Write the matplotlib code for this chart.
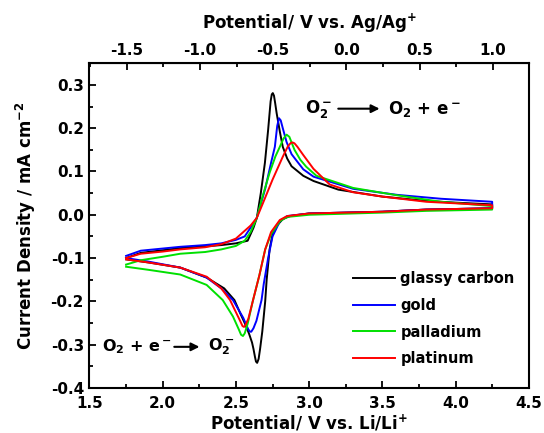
import numpy as np
import matplotlib
matplotlib.use("Agg")
import matplotlib.pyplot as plt
from matplotlib.ticker import MultipleLocator, FixedLocator

plt.rcParams['font.family'] = ['DejaVu Sans']
plt.rcParams['font.weight'] = 'bold'
plt.rcParams['mathtext.default'] = 'regular'
plt.rcParams['axes.unicode_minus'] = False

# offset between the two reference scales (V vs Li/Li+ minus V vs Ag/Ag+)
offset = 3.254

labels = ["glassy carbon", "gold", "palladium", "platinum"]
colors = ["black", "blue", "#00e000", "red"]
ag_ticks = [-1.5, -1.0, -0.5, 0.0, 0.5, 1.0]

# forward scan (1.75 -> 4.25 V) and reverse scan (4.25 -> 1.75 V)
gc_up_V = [1.75, 1.85, 2.0, 2.12, 2.29, 2.4, 2.5, 2.58, 2.62, 2.643, 2.67, 2.698, 2.72, 2.737, 2.745, 2.752, 2.76, 2.768, 2.778, 2.80, 2.82, 2.85, 2.88, 2.96, 3.03, 3.2, 3.5, 3.8, 4.0, 4.25]
gc_up_j = [-0.1, -0.088, -0.082, -0.077, -0.073, -0.07, -0.066, -0.06, -0.03, -0.007, 0.05, 0.12, 0.196, 0.262, 0.278, 0.281, 0.275, 0.258, 0.235, 0.192, 0.157, 0.13, 0.112, 0.09, 0.078, 0.058, 0.042, 0.032, 0.028, 0.024]
gc_dn_V = [4.25, 3.8, 3.5, 3.0, 2.87, 2.82, 2.78, 2.75, 2.73, 2.71, 2.70, 2.68, 2.665, 2.655, 2.645, 2.637, 2.63, 2.62, 2.61, 2.59, 2.56, 2.53, 2.49, 2.42, 2.3, 2.12, 1.9, 1.75]
gc_dn_j = [0.015, 0.012, 0.007, 0.003, -0.003, -0.01, -0.025, -0.045, -0.08, -0.15, -0.2, -0.27, -0.31, -0.333, -0.342, -0.339, -0.328, -0.31, -0.295, -0.275, -0.25, -0.228, -0.197, -0.17, -0.145, -0.122, -0.11, -0.103]

au_up_V = [1.75, 1.85, 2.0, 2.12, 2.29, 2.4, 2.5, 2.56, 2.6, 2.643, 2.7, 2.74, 2.766, 2.782, 2.794, 2.806, 2.82, 2.846, 2.88, 2.914, 2.96, 3.03, 3.3, 3.6, 3.9, 4.25]
au_up_j = [-0.095, -0.083, -0.078, -0.074, -0.07, -0.066, -0.058, -0.05, -0.03, -0.007, 0.06, 0.12, 0.157, 0.205, 0.223, 0.218, 0.2, 0.168, 0.14, 0.125, 0.105, 0.088, 0.06, 0.046, 0.037, 0.03]
au_dn_V = [4.25, 3.8, 3.5, 3.0, 2.85, 2.8, 2.75, 2.72, 2.69, 2.675, 2.64, 2.62, 2.605, 2.596, 2.585, 2.57, 2.55, 2.48, 2.4, 2.3, 2.12, 1.9, 1.75]
au_dn_j = [0.015, 0.012, 0.007, 0.003, -0.003, -0.015, -0.05, -0.1, -0.16, -0.197, -0.245, -0.262, -0.27, -0.27, -0.265, -0.254, -0.238, -0.197, -0.17, -0.145, -0.122, -0.108, -0.1]

pd_up_V = [1.75, 1.85, 2.0, 2.12, 2.29, 2.4, 2.5, 2.56, 2.6, 2.643, 2.68, 2.73, 2.77, 2.80, 2.825, 2.846, 2.865, 2.90, 2.94, 2.98, 3.05, 3.3, 3.6, 3.9, 4.25]
pd_up_j = [-0.115, -0.105, -0.097, -0.09, -0.086, -0.08, -0.072, -0.06, -0.04, -0.007, 0.04, 0.097, 0.135, 0.157, 0.176, 0.185, 0.18, 0.15, 0.127, 0.111, 0.09, 0.062, 0.045, 0.03, 0.02]
pd_dn_V = [4.25, 3.8, 3.5, 3.0, 2.85, 2.8, 2.74, 2.70, 2.66, 2.615, 2.58, 2.56, 2.548, 2.535, 2.52, 2.48, 2.41, 2.3, 2.12, 1.9, 1.75]
pd_dn_j = [0.012, 0.009, 0.005, 0.0, -0.005, -0.015, -0.045, -0.08, -0.14, -0.2, -0.252, -0.274, -0.28, -0.277, -0.265, -0.235, -0.197, -0.162, -0.138, -0.127, -0.12]

pt_up_V = [1.75, 1.85, 2.0, 2.12, 2.29, 2.4, 2.5, 2.6, 2.643, 2.686, 2.75, 2.82, 2.855, 2.875, 2.887, 2.9, 2.92, 2.96, 3.03, 3.14, 3.3, 3.5, 3.8, 4.25]
pt_up_j = [-0.1, -0.09, -0.085, -0.08, -0.075, -0.068, -0.055, -0.025, -0.007, 0.028, 0.081, 0.134, 0.158, 0.166, 0.167, 0.165, 0.157, 0.138, 0.106, 0.07, 0.052, 0.042, 0.03, 0.022]
pt_dn_V = [4.25, 3.8, 3.5, 3.0, 2.85, 2.8, 2.74, 2.70, 2.66, 2.617, 2.585, 2.565, 2.555, 2.545, 2.53, 2.5, 2.46, 2.4, 2.3, 2.12, 1.9, 1.75]
pt_dn_j = [0.015, 0.012, 0.007, 0.003, -0.003, -0.012, -0.04, -0.08, -0.14, -0.197, -0.24, -0.255, -0.259, -0.257, -0.246, -0.225, -0.197, -0.17, -0.143, -0.122, -0.11, -0.103]

curves = [(gc_up_V + gc_dn_V, gc_up_j + gc_dn_j),
          (au_up_V + au_dn_V, au_up_j + au_dn_j),
          (pd_up_V + pd_dn_V, pd_up_j + pd_dn_j),
          (pt_up_V + pt_dn_V, pt_up_j + pt_dn_j)]

fig = plt.figure(figsize=(5.44, 4.33), dpi=100)
ax = fig.add_axes([0.1645, 0.104, 0.8075, 0.75])

for (V, j), c, lab in zip(curves, colors, labels):
    ax.plot(V, j, color=c, lw=1.4, label=lab)

ax.set_xlim(1.5, 4.5)
ax.set_ylim(-0.4, 0.35)
ax.xaxis.set_major_locator(MultipleLocator(0.5))
ax.xaxis.set_minor_locator(MultipleLocator(0.25))
ax.yaxis.set_major_locator(MultipleLocator(0.1))
ax.yaxis.set_minor_locator(MultipleLocator(0.05))
ax.tick_params(which='both', direction='in', top=False, right=False, labelsize=11, width=1.3)
ax.tick_params(axis='x', pad=6)
ax.tick_params(axis='y', pad=4)
ax.tick_params(which='major', length=5)
ax.tick_params(which='minor', length=3)
for lbl in ax.get_xticklabels() + ax.get_yticklabels():
    lbl.set_fontweight('bold')
for s in ax.spines.values():
    s.set_linewidth(1.5)

ax.set_xlabel("Potential/ V vs. Li/Li$^{+}$", fontsize=12, fontweight='bold', labelpad=1)
ax.set_ylabel("Current Density / mA cm$^{-2}$", fontsize=12, fontweight='bold', labelpad=9)

top = ax.secondary_xaxis('top', functions=(lambda x: x - offset, lambda x: x + offset))
top.xaxis.set_major_locator(FixedLocator(ag_ticks))
top.xaxis.set_minor_locator(FixedLocator([t + 0.25 for t in ag_ticks[:-1]] + [-1.75]))
top.tick_params(which='both', direction='in', labelsize=11, width=1.3, pad=4)
top.tick_params(which='major', length=5)
top.tick_params(which='minor', length=3)
for lbl in top.get_xticklabels():
    lbl.set_fontweight('bold')
top.set_xlabel("Potential/ V vs. Ag/Ag$^{+}$", fontsize=12, fontweight='bold', labelpad=10)

ax.annotate("", xy=(3.5, 0.245), xytext=(3.18, 0.245),
            arrowprops=dict(arrowstyle='-|>', color='black', lw=1.5, mutation_scale=12))
ax.text(2.97, 0.245, "O$_2^-$", fontsize=12, fontweight='bold', va='center')
ax.text(3.54, 0.245, "O$_2$ + e$^-$", fontsize=12, fontweight='bold', va='center')

ax.annotate("", xy=(2.27, -0.305), xytext=(2.06, -0.305),
            arrowprops=dict(arrowstyle='-|>', color='black', lw=1.5, mutation_scale=12))
ax.text(1.585, -0.305, "O$_2$ + e$^-$", fontsize=11.5, fontweight='bold', va='center')
ax.text(2.31, -0.305, "O$_2^-$", fontsize=11.5, fontweight='bold', va='center')

ax.legend(loc='upper left', bbox_to_anchor=(0.57, 0.40), frameon=False,
          prop={'size': 10.5, 'weight': 'bold'}, handlelength=2.9, handletextpad=0.35,
          labelspacing=0.8)

fig.savefig("out.png", dpi=100)
